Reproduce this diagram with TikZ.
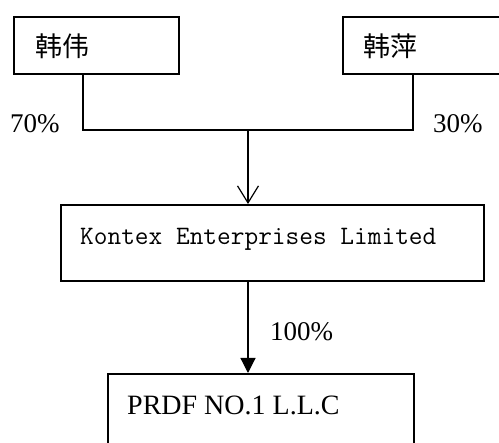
\documentclass[tikz,border=0pt]{standalone}
\usepackage{fontspec}
\setmainfont{Liberation Serif}
\newfontfamily\cjk{Noto Sans CJK SC}
\usetikzlibrary{arrows.meta}
\begin{document}
\begin{tikzpicture}[x=1pt,y=-1pt,
  box/.style={draw, line width=1.6pt, rectangle, inner sep=0pt, anchor=north west},
  txt/.style={inner sep=0pt, font=\fontsize{27}{30}\selectfont},
  cjktxt/.style={inner sep=0pt, font=\fontsize{27}{30}\selectfont\cjk},
  monotxt/.style={inner sep=0pt, font=\fontsize{26.6}{30}\selectfont\ttfamily},
  conn/.style={line width=1.6pt},
  openarrow/.style={line width=1.2pt, -{Straight Barb[length=17pt,width=21pt,line width=1.2pt]}},
  filledarrow/.style={line width=1.2pt, -{Triangle[length=15pt,width=15pt]}}
]
\useasboundingbox[fill=white] (0,0) rectangle (499,443);
\clip (0,0) rectangle (499,443);
% boxes
\node[box, minimum width=165pt, minimum height=57pt] (h1) at (13,16) {};
\node[box, minimum width=190pt, minimum height=57pt] (h2) at (342,16) {};
\node[box, minimum width=423pt, minimum height=76pt] (kontex) at (60,204) {};
\node[box, minimum width=306pt, minimum height=110pt] (prdf) at (107,373) {};
% texts
\node[cjktxt, anchor=west] (t1) at (35,46) {韩伟};
\node[cjktxt, anchor=west] (t2) at (363,46) {韩萍};
\node[monotxt, anchor=base west] (t3) at (80,245) {Kontex Enterprises Limited};
\node[txt, anchor=base west, font=\fontsize{28}{30}\selectfont] (t4) at (127,415) {PRDF NO.1 L.L.C};
\node[txt, anchor=base west] (p70) at (10,133) {70\%};
\node[txt, anchor=base west] (p30) at (433,133) {30\%};
\node[txt, anchor=base west] (p100) at (270,341) {100\%};
% connectors
\coordinate (j) at (248,130);
\draw[conn] ([xshift=70pt]h1.south west) |- (j) -| ([xshift=71pt]h2.south west);
\draw[openarrow] (j) -- (kontex.north -| j);
\draw[filledarrow] (kontex.south -| j) -- (prdf.north -| j);
\end{tikzpicture}
\end{document}
